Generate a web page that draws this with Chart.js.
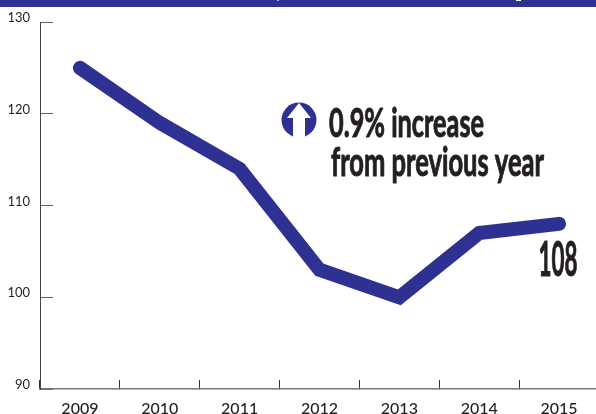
<!DOCTYPE html>
<html>
<head>
<meta charset="utf-8">
<title>Line chart 2009-2015</title>
<script src="https://cdn.jsdelivr.net/npm/chart.js@4"></script>
<style>
  html, body { margin: 0; padding: 0; background: #fff; overflow: hidden; }
  #wrap { width: 596px; height: 414px; overflow: hidden; }
  canvas { display: block; }
</style>
</head>
<body>
<div id="wrap"><canvas id="grafik" width="620" height="414"></canvas></div>
<script>
const tahun = ['2009', '2010', '2011', '2012', '2013', '2014', '2015'];
const nilai = [125, 119, 114, 103, 100, 107, 108];
const tickY = [90, 100, 110, 120, 130];

const NAVY = '#2e3192';
const INK = '#231f20';

// stretches or squeezes a text to a fixed width, with a thin outline for weight
function tulis(ctx, teks, x, y, lebar, font) {
  ctx.save();
  ctx.font = font;
  const w = ctx.measureText(teks).width;
  ctx.translate(x, y);
  ctx.scale(lebar / w, 1);
  ctx.strokeStyle = INK;
  ctx.lineWidth = 1;
  ctx.lineJoin = 'round';
  ctx.strokeText(teks, 0, 0);
  ctx.fillText(teks, 0, 0);
  ctx.restore();
}

const hiasan = {
  id: 'hiasan',
  afterDraw(chart) {
    const ctx = chart.ctx;
    const sx = chart.scales.x;
    const sy = chart.scales.y;

    // top band, with the two small specks on its upper edge
    ctx.fillStyle = NAVY;
    ctx.fillRect(0, 0, chart.width, 7);
    ctx.fillStyle = 'rgba(255,255,255,0.6)';
    ctx.fillRect(277, 0, 2, 1);
    ctx.fillStyle = '#fff';
    ctx.fillRect(516, 0, 5, 1);

    // up arrow badge
    ctx.save();
    ctx.fillStyle = NAVY;
    ctx.beginPath();
    ctx.arc(299, 120, 17.5, 0, Math.PI * 2);
    ctx.fill();
    ctx.fillStyle = '#fff';
    ctx.beginPath();
    ctx.moveTo(299, 103);
    ctx.lineTo(287, 118);
    ctx.lineTo(293, 118);
    ctx.lineTo(293, 138);
    ctx.lineTo(305, 138);
    ctx.lineTo(305, 118);
    ctx.lineTo(311, 118);
    ctx.closePath();
    ctx.fill();
    ctx.restore();

    ctx.fillStyle = INK;
    ctx.textBaseline = 'alphabetic';
    ctx.textAlign = 'left';
    const fontBesar = 'bold 40px Lato';
    tulis(ctx, '0.9% increase', 329, 137, 155, fontBesar);
    tulis(ctx, 'from previous year', 331, 176, 213, fontBesar);

    // label for the last point
    const terakhir = nilai.length - 1;
    const labelX = sx.getPixelForValue(terakhir);
    tulis(ctx, String(nilai[terakhir]), labelX - 20.5, sy.getPixelForValue(nilai[terakhir]) + 52, 39, 'bold 47px Lato');
  }
};

new Chart(document.getElementById('grafik'), {
  type: 'line',
  data: {
    labels: tahun,
    datasets: [{
      data: nilai,
      borderColor: NAVY,
      borderWidth: 14,
      borderCapStyle: 'round',
      borderJoinStyle: 'miter',
      pointRadius: 0,
      tension: 0,
      fill: false
    }]
  },
  options: {
    responsive: false,
    animation: false,
    layout: { padding: { top: 22, right: 21, left: 0, bottom: 0 } },
    plugins: { legend: { display: false }, tooltip: { enabled: false }, title: { display: false } },
    scales: {
      x: {
        type: 'category',
        offset: true,
        afterFit(scale) {
          scale.height = 25;
          scale.paddingLeft = 0;
          scale.paddingRight = 0;
        },
        border: { color: '#777', width: 1.5 },
        grid: { offset: true, drawOnChartArea: false, drawTicks: true, tickLength: -9, tickColor: '#333', tickWidth: 1 },
        ticks: {
          color: INK,
          padding: 19,
          maxRotation: 0,
          autoSkip: false,
          font: { family: 'Lato', size: 16, weight: '500' }
        }
      },
      y: {
        min: 90,
        max: 130,
        afterFit(scale) {
          scale.width = 40;
          scale.paddingTop = 0;
          scale.paddingBottom = 0;
        },
        afterBuildTicks(scale) { scale.ticks = tickY.map(v => ({ value: v })); },
        border: { color: '#444', width: 1 },
        grid: { drawOnChartArea: false, drawTicks: true, tickLength: -13, tickColor: '#666', tickWidth: 1 },
        ticks: {
          color: INK,
          padding: 23,
          labelOffset: -4,
          font: { family: 'Lato', size: 13 }
        }
      }
    }
  },
  plugins: [hiasan]
});
</script>
</body>
</html>
